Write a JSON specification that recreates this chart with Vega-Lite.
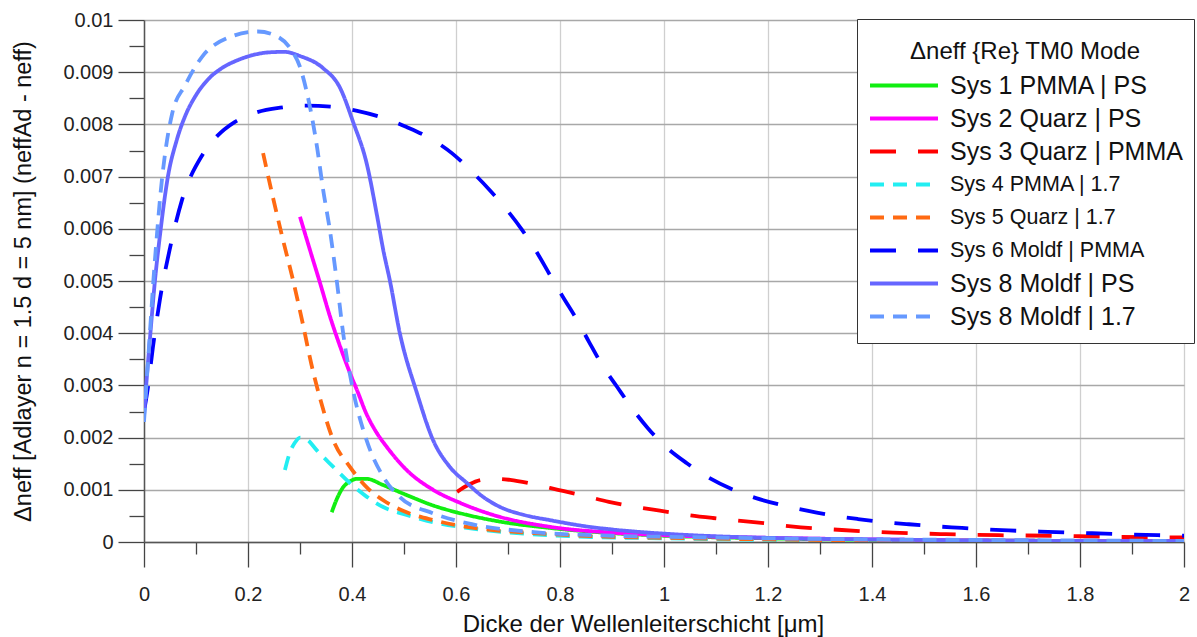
{
  "$schema": "https://vega.github.io/schema/vega-lite/v6.json",
  "width": 1040,
  "height": 522,
  "autosize": {"type": "none"},
  "padding": {"left": 144, "top": 20, "right": 13, "bottom": 95},
  "background": "white",
  "config": {
    "font": "Liberation Sans",
    "view": {"stroke": null},
    "axis": {"labelFont": "Liberation Sans", "titleFont": "Liberation Sans", "titleFontWeight": "normal", "labelColor": "#222", "titleColor": "#111"},
    "legend": {"labelFont": "Liberation Sans", "titleFont": "Liberation Sans"}
  },
  "data": {
    "values": [
      {"sys": "Sys 1 PMMA | PS", "d": 0.361, "dn": 0.00057},
      {"sys": "Sys 1 PMMA | PS", "d": 0.372, "dn": 0.00085},
      {"sys": "Sys 1 PMMA | PS", "d": 0.383, "dn": 0.00105},
      {"sys": "Sys 1 PMMA | PS", "d": 0.396, "dn": 0.00116},
      {"sys": "Sys 1 PMMA | PS", "d": 0.409, "dn": 0.00121},
      {"sys": "Sys 1 PMMA | PS", "d": 0.428, "dn": 0.00121},
      {"sys": "Sys 1 PMMA | PS", "d": 0.46, "dn": 0.00109},
      {"sys": "Sys 1 PMMA | PS", "d": 0.505, "dn": 0.0009},
      {"sys": "Sys 1 PMMA | PS", "d": 0.556, "dn": 0.0007},
      {"sys": "Sys 1 PMMA | PS", "d": 0.621, "dn": 0.00052},
      {"sys": "Sys 1 PMMA | PS", "d": 0.685, "dn": 0.00039},
      {"sys": "Sys 1 PMMA | PS", "d": 0.78, "dn": 0.00027},
      {"sys": "Sys 1 PMMA | PS", "d": 0.9, "dn": 0.00017},
      {"sys": "Sys 1 PMMA | PS", "d": 1.0, "dn": 0.00012},
      {"sys": "Sys 1 PMMA | PS", "d": 1.2, "dn": 0.00007},
      {"sys": "Sys 1 PMMA | PS", "d": 1.4, "dn": 0.00004},
      {"sys": "Sys 1 PMMA | PS", "d": 1.6, "dn": 0.00003},
      {"sys": "Sys 1 PMMA | PS", "d": 1.8, "dn": 0.00002},
      {"sys": "Sys 1 PMMA | PS", "d": 2.0, "dn": 0.000015},

      {"sys": "Sys 2 Quarz | PS", "d": 0.3, "dn": 0.00623},
      {"sys": "Sys 2 Quarz | PS", "d": 0.319, "dn": 0.0056},
      {"sys": "Sys 2 Quarz | PS", "d": 0.338, "dn": 0.00498},
      {"sys": "Sys 2 Quarz | PS", "d": 0.358, "dn": 0.00431},
      {"sys": "Sys 2 Quarz | PS", "d": 0.377, "dn": 0.00375},
      {"sys": "Sys 2 Quarz | PS", "d": 0.396, "dn": 0.00324},
      {"sys": "Sys 2 Quarz | PS", "d": 0.41, "dn": 0.0029},
      {"sys": "Sys 2 Quarz | PS", "d": 0.428, "dn": 0.00245},
      {"sys": "Sys 2 Quarz | PS", "d": 0.447, "dn": 0.0021},
      {"sys": "Sys 2 Quarz | PS", "d": 0.467, "dn": 0.00182},
      {"sys": "Sys 2 Quarz | PS", "d": 0.505, "dn": 0.00138},
      {"sys": "Sys 2 Quarz | PS", "d": 0.556, "dn": 0.001},
      {"sys": "Sys 2 Quarz | PS", "d": 0.608, "dn": 0.00075},
      {"sys": "Sys 2 Quarz | PS", "d": 0.671, "dn": 0.00052},
      {"sys": "Sys 2 Quarz | PS", "d": 0.781, "dn": 0.00029},
      {"sys": "Sys 2 Quarz | PS", "d": 0.9, "dn": 0.00018},
      {"sys": "Sys 2 Quarz | PS", "d": 1.0, "dn": 0.00013},
      {"sys": "Sys 2 Quarz | PS", "d": 1.2, "dn": 0.00008},
      {"sys": "Sys 2 Quarz | PS", "d": 1.4, "dn": 0.00005},
      {"sys": "Sys 2 Quarz | PS", "d": 1.6, "dn": 0.00003},
      {"sys": "Sys 2 Quarz | PS", "d": 1.8, "dn": 0.00002},
      {"sys": "Sys 2 Quarz | PS", "d": 2.0, "dn": 0.000015},

      {"sys": "Sys 3 Quarz | PMMA", "d": 0.602, "dn": 0.00096},
      {"sys": "Sys 3 Quarz | PMMA", "d": 0.625, "dn": 0.0011},
      {"sys": "Sys 3 Quarz | PMMA", "d": 0.65, "dn": 0.00119},
      {"sys": "Sys 3 Quarz | PMMA", "d": 0.68, "dn": 0.00121},
      {"sys": "Sys 3 Quarz | PMMA", "d": 0.704, "dn": 0.00119},
      {"sys": "Sys 3 Quarz | PMMA", "d": 0.748, "dn": 0.00111},
      {"sys": "Sys 3 Quarz | PMMA", "d": 0.796, "dn": 0.001},
      {"sys": "Sys 3 Quarz | PMMA", "d": 0.848, "dn": 0.00088},
      {"sys": "Sys 3 Quarz | PMMA", "d": 0.894, "dn": 0.00077},
      {"sys": "Sys 3 Quarz | PMMA", "d": 0.946, "dn": 0.00067},
      {"sys": "Sys 3 Quarz | PMMA", "d": 0.992, "dn": 0.0006},
      {"sys": "Sys 3 Quarz | PMMA", "d": 1.044, "dn": 0.00052},
      {"sys": "Sys 3 Quarz | PMMA", "d": 1.094, "dn": 0.00046},
      {"sys": "Sys 3 Quarz | PMMA", "d": 1.142, "dn": 0.00041},
      {"sys": "Sys 3 Quarz | PMMA", "d": 1.192, "dn": 0.00036},
      {"sys": "Sys 3 Quarz | PMMA", "d": 1.244, "dn": 0.0003},
      {"sys": "Sys 3 Quarz | PMMA", "d": 1.342, "dn": 0.00023},
      {"sys": "Sys 3 Quarz | PMMA", "d": 1.44, "dn": 0.00018},
      {"sys": "Sys 3 Quarz | PMMA", "d": 1.542, "dn": 0.00015},
      {"sys": "Sys 3 Quarz | PMMA", "d": 1.644, "dn": 0.00013},
      {"sys": "Sys 3 Quarz | PMMA", "d": 1.746, "dn": 0.00012},
      {"sys": "Sys 3 Quarz | PMMA", "d": 1.848, "dn": 0.0001},
      {"sys": "Sys 3 Quarz | PMMA", "d": 1.95, "dn": 0.00009},
      {"sys": "Sys 3 Quarz | PMMA", "d": 2.0, "dn": 0.00009},

      {"sys": "Sys 4 PMMA | 1.7", "d": 0.271, "dn": 0.00138},
      {"sys": "Sys 4 PMMA | 1.7", "d": 0.28, "dn": 0.0017},
      {"sys": "Sys 4 PMMA | 1.7", "d": 0.29, "dn": 0.0019},
      {"sys": "Sys 4 PMMA | 1.7", "d": 0.3, "dn": 0.002},
      {"sys": "Sys 4 PMMA | 1.7", "d": 0.315, "dn": 0.00195},
      {"sys": "Sys 4 PMMA | 1.7", "d": 0.332, "dn": 0.00176},
      {"sys": "Sys 4 PMMA | 1.7", "d": 0.364, "dn": 0.00144},
      {"sys": "Sys 4 PMMA | 1.7", "d": 0.396, "dn": 0.00113},
      {"sys": "Sys 4 PMMA | 1.7", "d": 0.428, "dn": 0.00087},
      {"sys": "Sys 4 PMMA | 1.7", "d": 0.46, "dn": 0.00067},
      {"sys": "Sys 4 PMMA | 1.7", "d": 0.505, "dn": 0.00052},
      {"sys": "Sys 4 PMMA | 1.7", "d": 0.556, "dn": 0.00038},
      {"sys": "Sys 4 PMMA | 1.7", "d": 0.621, "dn": 0.00027},
      {"sys": "Sys 4 PMMA | 1.7", "d": 0.717, "dn": 0.00017},
      {"sys": "Sys 4 PMMA | 1.7", "d": 0.85, "dn": 0.0001},
      {"sys": "Sys 4 PMMA | 1.7", "d": 1.0, "dn": 0.00007},
      {"sys": "Sys 4 PMMA | 1.7", "d": 1.2, "dn": 0.00004},
      {"sys": "Sys 4 PMMA | 1.7", "d": 1.4, "dn": 0.000025},
      {"sys": "Sys 4 PMMA | 1.7", "d": 1.6, "dn": 0.000015},
      {"sys": "Sys 4 PMMA | 1.7", "d": 1.8, "dn": 0.00001},
      {"sys": "Sys 4 PMMA | 1.7", "d": 2.0, "dn": 0.00001},

      {"sys": "Sys 5 Quarz | 1.7", "d": 0.229, "dn": 0.00745},
      {"sys": "Sys 5 Quarz | 1.7", "d": 0.248, "dn": 0.0066},
      {"sys": "Sys 5 Quarz | 1.7", "d": 0.267, "dn": 0.0058},
      {"sys": "Sys 5 Quarz | 1.7", "d": 0.287, "dn": 0.005},
      {"sys": "Sys 5 Quarz | 1.7", "d": 0.305, "dn": 0.0042},
      {"sys": "Sys 5 Quarz | 1.7", "d": 0.322, "dn": 0.0034},
      {"sys": "Sys 5 Quarz | 1.7", "d": 0.34, "dn": 0.0027},
      {"sys": "Sys 5 Quarz | 1.7", "d": 0.364, "dn": 0.00195},
      {"sys": "Sys 5 Quarz | 1.7", "d": 0.396, "dn": 0.00144},
      {"sys": "Sys 5 Quarz | 1.7", "d": 0.428, "dn": 0.00105},
      {"sys": "Sys 5 Quarz | 1.7", "d": 0.46, "dn": 0.0008},
      {"sys": "Sys 5 Quarz | 1.7", "d": 0.505, "dn": 0.00057},
      {"sys": "Sys 5 Quarz | 1.7", "d": 0.556, "dn": 0.00042},
      {"sys": "Sys 5 Quarz | 1.7", "d": 0.621, "dn": 0.00029},
      {"sys": "Sys 5 Quarz | 1.7", "d": 0.75, "dn": 0.00017},
      {"sys": "Sys 5 Quarz | 1.7", "d": 0.9, "dn": 0.0001},
      {"sys": "Sys 5 Quarz | 1.7", "d": 1.0, "dn": 0.00008},
      {"sys": "Sys 5 Quarz | 1.7", "d": 1.2, "dn": 0.00005},
      {"sys": "Sys 5 Quarz | 1.7", "d": 1.4, "dn": 0.00003},
      {"sys": "Sys 5 Quarz | 1.7", "d": 1.6, "dn": 0.00002},
      {"sys": "Sys 5 Quarz | 1.7", "d": 1.8, "dn": 0.000015},
      {"sys": "Sys 5 Quarz | 1.7", "d": 2.0, "dn": 0.00001},

      {"sys": "Sys 6 Moldf | PMMA", "d": 0.0, "dn": 0.0025},
      {"sys": "Sys 6 Moldf | PMMA", "d": 0.007, "dn": 0.00292},
      {"sys": "Sys 6 Moldf | PMMA", "d": 0.017, "dn": 0.00372},
      {"sys": "Sys 6 Moldf | PMMA", "d": 0.031, "dn": 0.00467},
      {"sys": "Sys 6 Moldf | PMMA", "d": 0.05, "dn": 0.00563},
      {"sys": "Sys 6 Moldf | PMMA", "d": 0.073, "dn": 0.00655},
      {"sys": "Sys 6 Moldf | PMMA", "d": 0.112, "dn": 0.00741},
      {"sys": "Sys 6 Moldf | PMMA", "d": 0.14, "dn": 0.00777},
      {"sys": "Sys 6 Moldf | PMMA", "d": 0.175, "dn": 0.00805},
      {"sys": "Sys 6 Moldf | PMMA", "d": 0.213, "dn": 0.00822},
      {"sys": "Sys 6 Moldf | PMMA", "d": 0.262, "dn": 0.00832},
      {"sys": "Sys 6 Moldf | PMMA", "d": 0.313, "dn": 0.00836},
      {"sys": "Sys 6 Moldf | PMMA", "d": 0.377, "dn": 0.00832},
      {"sys": "Sys 6 Moldf | PMMA", "d": 0.41, "dn": 0.00826},
      {"sys": "Sys 6 Moldf | PMMA", "d": 0.473, "dn": 0.00808},
      {"sys": "Sys 6 Moldf | PMMA", "d": 0.505, "dn": 0.00795},
      {"sys": "Sys 6 Moldf | PMMA", "d": 0.556, "dn": 0.0077},
      {"sys": "Sys 6 Moldf | PMMA", "d": 0.592, "dn": 0.00745},
      {"sys": "Sys 6 Moldf | PMMA", "d": 0.631, "dn": 0.00709},
      {"sys": "Sys 6 Moldf | PMMA", "d": 0.665, "dn": 0.00674},
      {"sys": "Sys 6 Moldf | PMMA", "d": 0.698, "dn": 0.00636},
      {"sys": "Sys 6 Moldf | PMMA", "d": 0.727, "dn": 0.00598},
      {"sys": "Sys 6 Moldf | PMMA", "d": 0.756, "dn": 0.00554},
      {"sys": "Sys 6 Moldf | PMMA", "d": 0.781, "dn": 0.00511},
      {"sys": "Sys 6 Moldf | PMMA", "d": 0.806, "dn": 0.00469},
      {"sys": "Sys 6 Moldf | PMMA", "d": 0.833, "dn": 0.00425},
      {"sys": "Sys 6 Moldf | PMMA", "d": 0.856, "dn": 0.00383},
      {"sys": "Sys 6 Moldf | PMMA", "d": 0.881, "dn": 0.00339},
      {"sys": "Sys 6 Moldf | PMMA", "d": 0.91, "dn": 0.00297},
      {"sys": "Sys 6 Moldf | PMMA", "d": 0.938, "dn": 0.00257},
      {"sys": "Sys 6 Moldf | PMMA", "d": 0.969, "dn": 0.00218},
      {"sys": "Sys 6 Moldf | PMMA", "d": 1.004, "dn": 0.00182},
      {"sys": "Sys 6 Moldf | PMMA", "d": 1.044, "dn": 0.00151},
      {"sys": "Sys 6 Moldf | PMMA", "d": 1.083, "dn": 0.00125},
      {"sys": "Sys 6 Moldf | PMMA", "d": 1.131, "dn": 0.00101},
      {"sys": "Sys 6 Moldf | PMMA", "d": 1.177, "dn": 0.00084},
      {"sys": "Sys 6 Moldf | PMMA", "d": 1.225, "dn": 0.00071},
      {"sys": "Sys 6 Moldf | PMMA", "d": 1.275, "dn": 0.0006},
      {"sys": "Sys 6 Moldf | PMMA", "d": 1.323, "dn": 0.00051},
      {"sys": "Sys 6 Moldf | PMMA", "d": 1.373, "dn": 0.00044},
      {"sys": "Sys 6 Moldf | PMMA", "d": 1.425, "dn": 0.00038},
      {"sys": "Sys 6 Moldf | PMMA", "d": 1.471, "dn": 0.00034},
      {"sys": "Sys 6 Moldf | PMMA", "d": 1.523, "dn": 0.0003},
      {"sys": "Sys 6 Moldf | PMMA", "d": 1.573, "dn": 0.00027},
      {"sys": "Sys 6 Moldf | PMMA", "d": 1.621, "dn": 0.00024},
      {"sys": "Sys 6 Moldf | PMMA", "d": 1.723, "dn": 0.0002},
      {"sys": "Sys 6 Moldf | PMMA", "d": 1.848, "dn": 0.00016},
      {"sys": "Sys 6 Moldf | PMMA", "d": 1.95, "dn": 0.00013},
      {"sys": "Sys 6 Moldf | PMMA", "d": 2.0, "dn": 0.00012},

      {"sys": "Sys 8 Moldf | PS", "d": 0.0, "dn": 0.0024},
      {"sys": "Sys 8 Moldf | PS", "d": 0.005, "dn": 0.0031},
      {"sys": "Sys 8 Moldf | PS", "d": 0.0115, "dn": 0.0039},
      {"sys": "Sys 8 Moldf | PS", "d": 0.021, "dn": 0.005},
      {"sys": "Sys 8 Moldf | PS", "d": 0.031, "dn": 0.0059},
      {"sys": "Sys 8 Moldf | PS", "d": 0.046, "dn": 0.007},
      {"sys": "Sys 8 Moldf | PS", "d": 0.063, "dn": 0.0077},
      {"sys": "Sys 8 Moldf | PS", "d": 0.08, "dn": 0.00818},
      {"sys": "Sys 8 Moldf | PS", "d": 0.1, "dn": 0.00856},
      {"sys": "Sys 8 Moldf | PS", "d": 0.125, "dn": 0.00888},
      {"sys": "Sys 8 Moldf | PS", "d": 0.15, "dn": 0.00908},
      {"sys": "Sys 8 Moldf | PS", "d": 0.18, "dn": 0.00923},
      {"sys": "Sys 8 Moldf | PS", "d": 0.21, "dn": 0.00933},
      {"sys": "Sys 8 Moldf | PS", "d": 0.24, "dn": 0.00938},
      {"sys": "Sys 8 Moldf | PS", "d": 0.27, "dn": 0.00939},
      {"sys": "Sys 8 Moldf | PS", "d": 0.3, "dn": 0.00931},
      {"sys": "Sys 8 Moldf | PS", "d": 0.344, "dn": 0.00908},
      {"sys": "Sys 8 Moldf | PS", "d": 0.377, "dn": 0.0087},
      {"sys": "Sys 8 Moldf | PS", "d": 0.402, "dn": 0.00805},
      {"sys": "Sys 8 Moldf | PS", "d": 0.429, "dn": 0.00722},
      {"sys": "Sys 8 Moldf | PS", "d": 0.448, "dn": 0.00626},
      {"sys": "Sys 8 Moldf | PS", "d": 0.46, "dn": 0.0056},
      {"sys": "Sys 8 Moldf | PS", "d": 0.473, "dn": 0.005},
      {"sys": "Sys 8 Moldf | PS", "d": 0.492, "dn": 0.004},
      {"sys": "Sys 8 Moldf | PS", "d": 0.525, "dn": 0.00285},
      {"sys": "Sys 8 Moldf | PS", "d": 0.556, "dn": 0.00195},
      {"sys": "Sys 8 Moldf | PS", "d": 0.588, "dn": 0.00144},
      {"sys": "Sys 8 Moldf | PS", "d": 0.621, "dn": 0.00113},
      {"sys": "Sys 8 Moldf | PS", "d": 0.65, "dn": 0.00088},
      {"sys": "Sys 8 Moldf | PS", "d": 0.685, "dn": 0.00067},
      {"sys": "Sys 8 Moldf | PS", "d": 0.73, "dn": 0.00052},
      {"sys": "Sys 8 Moldf | PS", "d": 0.78, "dn": 0.00042},
      {"sys": "Sys 8 Moldf | PS", "d": 0.85, "dn": 0.0003},
      {"sys": "Sys 8 Moldf | PS", "d": 0.9, "dn": 0.00024},
      {"sys": "Sys 8 Moldf | PS", "d": 1.0, "dn": 0.00016},
      {"sys": "Sys 8 Moldf | PS", "d": 1.1, "dn": 0.00011},
      {"sys": "Sys 8 Moldf | PS", "d": 1.2, "dn": 0.00008},
      {"sys": "Sys 8 Moldf | PS", "d": 1.4, "dn": 0.00005},
      {"sys": "Sys 8 Moldf | PS", "d": 1.6, "dn": 0.00003},
      {"sys": "Sys 8 Moldf | PS", "d": 1.8, "dn": 0.00002},
      {"sys": "Sys 8 Moldf | PS", "d": 2.0, "dn": 0.000015},

      {"sys": "Sys 8 Moldf | 1.7", "d": 0.0, "dn": 0.0023},
      {"sys": "Sys 8 Moldf | 1.7", "d": 0.006, "dn": 0.0032},
      {"sys": "Sys 8 Moldf | 1.7", "d": 0.012, "dn": 0.0041},
      {"sys": "Sys 8 Moldf | 1.7", "d": 0.018, "dn": 0.005},
      {"sys": "Sys 8 Moldf | 1.7", "d": 0.025, "dn": 0.0059},
      {"sys": "Sys 8 Moldf | 1.7", "d": 0.032, "dn": 0.0067},
      {"sys": "Sys 8 Moldf | 1.7", "d": 0.04, "dn": 0.0074},
      {"sys": "Sys 8 Moldf | 1.7", "d": 0.054, "dn": 0.0082},
      {"sys": "Sys 8 Moldf | 1.7", "d": 0.079, "dn": 0.00875},
      {"sys": "Sys 8 Moldf | 1.7", "d": 0.112, "dn": 0.0093},
      {"sys": "Sys 8 Moldf | 1.7", "d": 0.162, "dn": 0.00966},
      {"sys": "Sys 8 Moldf | 1.7", "d": 0.219, "dn": 0.00978},
      {"sys": "Sys 8 Moldf | 1.7", "d": 0.248, "dn": 0.00972},
      {"sys": "Sys 8 Moldf | 1.7", "d": 0.281, "dn": 0.00946},
      {"sys": "Sys 8 Moldf | 1.7", "d": 0.3, "dn": 0.0091},
      {"sys": "Sys 8 Moldf | 1.7", "d": 0.313, "dn": 0.00862},
      {"sys": "Sys 8 Moldf | 1.7", "d": 0.333, "dn": 0.00755},
      {"sys": "Sys 8 Moldf | 1.7", "d": 0.344, "dn": 0.00678},
      {"sys": "Sys 8 Moldf | 1.7", "d": 0.358, "dn": 0.00594},
      {"sys": "Sys 8 Moldf | 1.7", "d": 0.371, "dn": 0.00498},
      {"sys": "Sys 8 Moldf | 1.7", "d": 0.383, "dn": 0.004},
      {"sys": "Sys 8 Moldf | 1.7", "d": 0.402, "dn": 0.00291},
      {"sys": "Sys 8 Moldf | 1.7", "d": 0.428, "dn": 0.00195},
      {"sys": "Sys 8 Moldf | 1.7", "d": 0.46, "dn": 0.00125},
      {"sys": "Sys 8 Moldf | 1.7", "d": 0.492, "dn": 0.00086},
      {"sys": "Sys 8 Moldf | 1.7", "d": 0.556, "dn": 0.00055},
      {"sys": "Sys 8 Moldf | 1.7", "d": 0.621, "dn": 0.00036},
      {"sys": "Sys 8 Moldf | 1.7", "d": 0.75, "dn": 0.00019},
      {"sys": "Sys 8 Moldf | 1.7", "d": 0.9, "dn": 0.00012},
      {"sys": "Sys 8 Moldf | 1.7", "d": 1.0, "dn": 0.0001},
      {"sys": "Sys 8 Moldf | 1.7", "d": 1.2, "dn": 0.00007},
      {"sys": "Sys 8 Moldf | 1.7", "d": 1.4, "dn": 0.00005},
      {"sys": "Sys 8 Moldf | 1.7", "d": 1.6, "dn": 0.00004},
      {"sys": "Sys 8 Moldf | 1.7", "d": 1.8, "dn": 0.00003},
      {"sys": "Sys 8 Moldf | 1.7", "d": 2.0, "dn": 0.00002}
    ]
  },
  "mark": {"type": "line", "interpolate": "monotone", "strokeWidth": 3.8, "strokeCap": "butt", "clip": true},
  "encoding": {
    "x": {
      "field": "d",
      "type": "quantitative",
      "title": "Dicke der Wellenleiterschicht [μm]",
      "scale": {"domain": [0, 2], "nice": false, "zero": false},
      "axis": {
        "values": [0, 0.1, 0.2, 0.3, 0.4, 0.5, 0.6, 0.7, 0.8, 0.9, 1, 1.1, 1.2, 1.3, 1.4, 1.5, 1.6, 1.7, 1.8, 1.9, 2],
        "labelExpr": "abs(round(datum.value * 5) - datum.value * 5) < 0.001 ? format(datum.value, '~g') : ''",
        "labelFlush": false,
        "labelOverlap": false,
        "labelFontSize": 20,
        "labelPadding": 17,
        "titleFontSize": 24,
        "titlePadding": 8,
        "titleX": 499,
        "domainColor": "#555",
        "domainWidth": 1.5,
        "tickColor": "#444",
        "tickWidth": 1.3,
        "tickSize": {"condition": {"test": "abs(round(datum.value * 5) - datum.value * 5) < 0.001", "value": 25}, "value": 12},
        "grid": true,
        "gridColor": "#cfcfcf",
        "gridWidth": 1.3,
        "gridOpacity": {"condition": {"test": "abs(round(datum.value * 5) - datum.value * 5) < 0.001", "value": 1}, "value": 0}
      }
    },
    "y": {
      "field": "dn",
      "type": "quantitative",
      "title": "Δneff [Adlayer n = 1.5 d = 5 nm] (neffAd - neff)",
      "scale": {"domain": [0, 0.01], "nice": false, "zero": true},
      "axis": {
        "values": [0, 0.0005, 0.001, 0.0015, 0.002, 0.0025, 0.003, 0.0035, 0.004, 0.0045, 0.005, 0.0055, 0.006, 0.0065, 0.007, 0.0075, 0.008, 0.0085, 0.009, 0.0095, 0.01],
        "labelExpr": "abs(round(datum.value * 1000) - datum.value * 1000) < 0.01 ? format(datum.value, '~g') : ''",
        "labelFlush": false,
        "labelOverlap": false,
        "labelFontSize": 20,
        "labelPadding": 5,
        "titleFontSize": 23.5,
        "titlePadding": 27,
        "domainColor": "#555",
        "domainWidth": 1.5,
        "tickColor": "#444",
        "tickWidth": 1.3,
        "tickSize": {"condition": {"test": "abs(round(datum.value * 1000) - datum.value * 1000) < 0.01", "value": 26}, "value": 15},
        "grid": true,
        "gridColor": "#a8a8a8",
        "gridWidth": 1.3,
        "gridOpacity": {"condition": {"test": "abs(round(datum.value * 1000) - datum.value * 1000) < 0.01", "value": 1}, "value": 0}
      }
    },
    "color": {
      "field": "sys",
      "type": "nominal",
      "title": ["", "Δneff {Re} TM0 Mode"],
      "scale": {
        "domain": ["Sys 1 PMMA | PS", "Sys 2 Quarz | PS", "Sys 3 Quarz | PMMA", "Sys 4 PMMA | 1.7", "Sys 5 Quarz | 1.7", "Sys 6 Moldf | PMMA", "Sys 8 Moldf | PS", "Sys 8 Moldf | 1.7"],
        "range": ["#11ee11", "#ff00ff", "#ff0000", "#22eef2", "#ff6a12", "#0000ff", "#6666ff", "#6699ff"]
      },
      "legend": {
        "orient": "none",
        "legendX": 713,
        "legendY": -1,
        "padding": 11,
        "fillColor": "white",
        "strokeColor": "#333",
        "symbolType": "stroke",
        "symbolSize": 4624,
        "symbolStrokeWidth": 4,
        "clipHeight": 31,
        "rowPadding": 2,
        "labelOffset": 10,
        "labelFontSize": 25,
        "labelColor": "#111",
        "labelLimit": 400,
        "titleFontSize": 24,
        "titleFontWeight": "normal",
        "titleColor": "#111",
        "titleAnchor": "middle",
        "titleLimit": 400,
        "titleLineHeight": 10,
        "titlePadding": 6,
        "encode": {
          "labels": {
            "update": {
              "fontSize": {"signal": "indexof(['Sys 4 PMMA | 1.7', 'Sys 5 Quarz | 1.7', 'Sys 6 Moldf | PMMA'], datum.value) >= 0 ? 21.5 : 25"}
            }
          }
        }
      }
    },
    "strokeDash": {
      "field": "sys",
      "type": "nominal",
      "title": ["", "Δneff {Re} TM0 Mode"],
      "scale": {
        "domain": ["Sys 1 PMMA | PS", "Sys 2 Quarz | PS", "Sys 3 Quarz | PMMA", "Sys 4 PMMA | 1.7", "Sys 5 Quarz | 1.7", "Sys 6 Moldf | PMMA", "Sys 8 Moldf | PS", "Sys 8 Moldf | 1.7"],
        "range": [[1, 0], [1, 0], [26, 22], [14, 9], [14, 9], [26, 22], [1, 0], [14, 9]]
      },
      "legend": {
        "orient": "none",
        "legendX": 713,
        "legendY": -1,
        "padding": 11,
        "fillColor": "white",
        "strokeColor": "#333",
        "symbolType": "stroke",
        "symbolSize": 4624,
        "symbolStrokeWidth": 4,
        "clipHeight": 31,
        "rowPadding": 2,
        "labelOffset": 10,
        "labelFontSize": 25,
        "labelColor": "#111",
        "labelLimit": 400,
        "titleFontSize": 24,
        "titleFontWeight": "normal",
        "titleColor": "#111",
        "titleAnchor": "middle",
        "titleLimit": 400,
        "titleLineHeight": 10,
        "titlePadding": 6,
        "encode": {
          "labels": {
            "update": {
              "fontSize": {"signal": "indexof(['Sys 4 PMMA | 1.7', 'Sys 5 Quarz | 1.7', 'Sys 6 Moldf | PMMA'], datum.value) >= 0 ? 21.5 : 25"}
            }
          }
        }
      }
    }
  }
}
